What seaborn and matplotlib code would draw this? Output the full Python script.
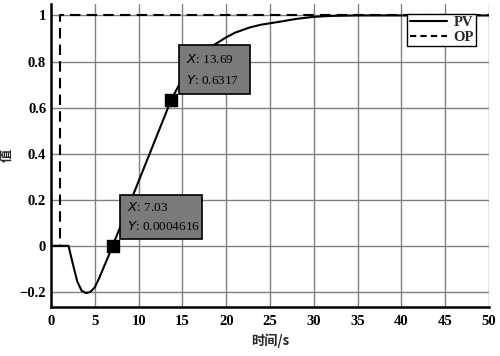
import numpy as np
import pandas as pd
import matplotlib
matplotlib.use("Agg")
import matplotlib.pyplot as plt
import seaborn as sns
from matplotlib.patches import Rectangle

# ---------- data ----------
pv_t = [0, 1, 2, 2.5, 3, 3.5, 4, 4.5, 5, 5.5, 6, 6.5, 7.03, 8, 9, 10, 11, 12, 13,
        13.69, 14.5, 15.5, 16.5, 17.5, 18.7, 20, 21, 22.7, 24, 26, 28, 30, 32, 35, 40, 45, 50]
pv_y = [0, 0, 0, -0.08, -0.155, -0.195, -0.205, -0.2, -0.18, -0.14, -0.095, -0.05, 0.0005,
        0.09, 0.185, 0.28, 0.375, 0.47, 0.565, 0.6317, 0.69, 0.75, 0.80, 0.84, 0.874,
        0.905, 0.925, 0.948, 0.96, 0.972, 0.985, 0.994, 0.998, 1.0, 1.0, 1.0, 1.0]
op_t = [0, 1, 1, 50]
op_y = [0, 0, 1, 1]
tip_x = [7.03, 13.69]
tip_y = [0.0004616, 0.6317]
tip_text = [("7.03", "0.0004616"), ("13.69", "0.6317")]

pv = pd.DataFrame({"t": pv_t, "y": pv_y})
op = pd.DataFrame({"t": op_t, "y": op_y})

sns.set_style("whitegrid")
plt.rcParams["font.family"] = ["Liberation Serif", "Noto Sans CJK SC"]

fig = plt.figure(figsize=(5, 3.56), dpi=100)
ax = fig.add_axes([0.102, 0.138, 0.876, 0.851])

sns.lineplot(data=pv, x="t", y="y", color="black", lw=1.5, label="PV", ax=ax,
             sort=False, estimator=None)
sns.lineplot(data=op, x="t", y="y", color="black", lw=1.5, label="OP", ax=ax,
             sort=False, estimator=None)
ax.lines[1].set_linestyle((0, (5, 3)))

# data tips
ax.scatter(tip_x, tip_y, marker="s", s=80, color="black", zorder=6)
boxes = [(7.9, 0.03, 9.3, 0.19), (14.6, 0.657, 8.1, 0.213)]
for (bx, by, bw, bh), (xs, ys) in zip(boxes, tip_text):
    ax.add_patch(Rectangle((bx, by), bw, bh, facecolor="#7a7a7a", edgecolor="black",
                           lw=1.2, zorder=5))
    ax.text(bx + 0.8, by + bh * 0.72, f"$X$: {xs}", fontsize=9.5, va="center", zorder=7,
            color="black")
    ax.text(bx + 0.8, by + bh * 0.28, f"$Y$: {ys}", fontsize=9.5, va="center", zorder=7,
            color="black")

ax.set_xlim(0, 50)
ax.set_ylim(-0.265, 1.05)
ax.set_xticks(range(0, 51, 5))
ax.set_yticks([-0.2, 0, 0.2, 0.4, 0.6, 0.8, 1])
ax.set_yticklabels(["−0.2", "0", "0.2", "0.4", "0.6", "0.8", "1"])
ax.grid(True, color="#808080", lw=1.0)
for s in ["top", "right"]:
    ax.spines[s].set_visible(False)
for s in ["left", "bottom"]:
    ax.spines[s].set_color("black")
    ax.spines[s].set_linewidth(1.8)
ax.tick_params(direction="in", length=3, width=1, colors="black", labelsize=10.5)
ax.tick_params(axis="x", pad=6)
for lab in ax.get_xticklabels() + ax.get_yticklabels():
    lab.set_fontweight("bold")

ax.set_xlabel("时间/s", fontsize=9.5, fontweight="bold", family=["Noto Sans CJK SC"], labelpad=4)
ax.set_ylabel("值", fontsize=9.5, fontweight="bold", family=["Noto Sans CJK SC"])
ax.yaxis.set_label_coords(-0.085, 0.5)

leg = ax.legend(loc="upper right", bbox_to_anchor=(0.97, 0.967), frameon=True, fancybox=False,
                framealpha=1, edgecolor="black", fontsize=10.5, handlelength=2.6,
                borderpad=0.15, labelspacing=0.1, handletextpad=0.4, borderaxespad=0)
for t in leg.get_texts():
    t.set_fontweight("bold")
leg.get_lines()[1].set_linestyle((0, (3, 2)))

fig.savefig("out.png", dpi=100)
